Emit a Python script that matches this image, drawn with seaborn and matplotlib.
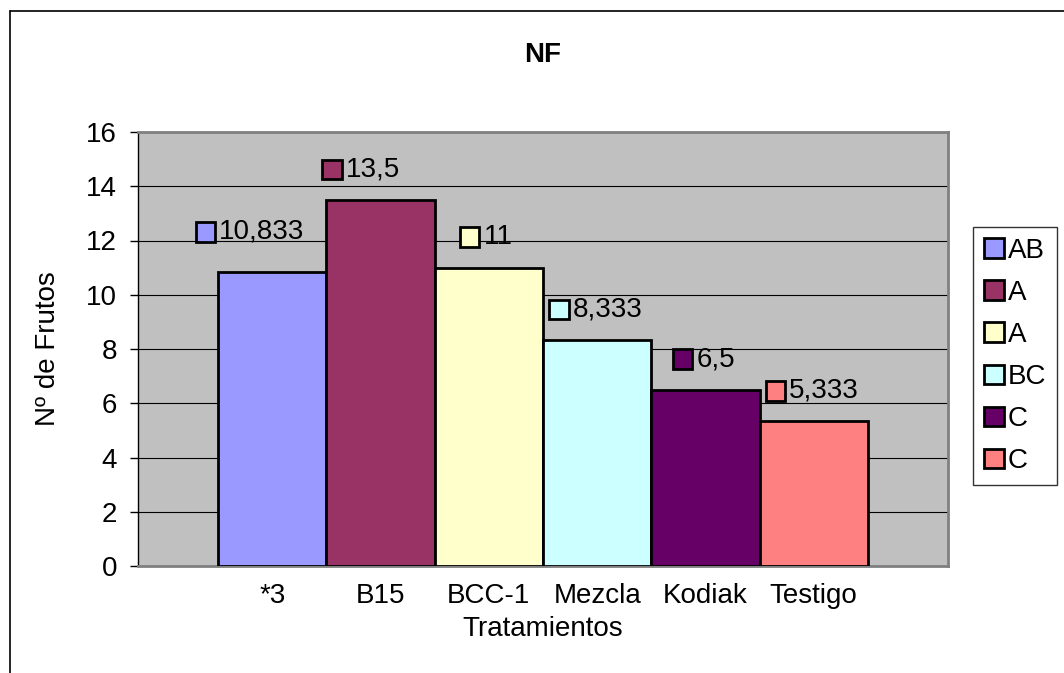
import matplotlib
matplotlib.use("Agg")
import matplotlib.pyplot as plt
from matplotlib.lines import Line2D
from matplotlib.patches import Patch, Rectangle
from matplotlib.offsetbox import AnnotationBbox, DrawingArea, HPacker, TextArea
import seaborn as sns
import pandas as pd

# data
tratamientos = ["*3", "B15", "BCC-1", "Mezcla", "Kodiak", "Testigo"]
frutos = [10.833, 13.5, 11, 8.333, 6.5, 5.333]
value_labels = ["10,833", "13,5", "11", "8,333", "6,5", "5,333"]
grupos = ["AB", "A", "A", "BC", "C", "C"]
colores = ["#9999FF", "#993366", "#FFFFCC", "#CCFFFF", "#660066", "#FF8080"]
yticks = [0, 2, 4, 6, 8, 10, 12, 14, 16]

# label nudges (points), the first two were moved by hand in the original
label_dx = [-16, -14, -2, -1, -1, -1]
label_dy = [29, 22, 22, 22, 22, 22]

sns.set_style("white")
plt.rcParams["font.family"] = ["Liberation Sans", "DejaVu Sans"]
plt.rcParams.update({"text.color": "black", "axes.labelcolor": "black",
                     "xtick.color": "black", "ytick.color": "black"})
FS = 20

df = pd.DataFrame({"Tratamientos": tratamientos, "NF": frutos})

fig = plt.figure(figsize=(10.64, 6.73), dpi=100)
ax = fig.add_axes([138 / 1064, 1 - 566 / 673, 810 / 1064, 434 / 673])
ax.set_facecolor("#C0C0C0")

sns.barplot(data=df, x="Tratamientos", y="NF", hue="Tratamientos",
            palette=colores, saturation=1, width=1, edgecolor="black",
            linewidth=2, legend=False, ax=ax, zorder=3)

ax.set_xlim(-1.24, 6.24)
ax.set_ylim(0, 16)
ax.set_yticks(yticks)
ax.set_yticklabels([str(t) for t in yticks], fontsize=FS)
ax.tick_params(axis="y", length=6, width=1, color="black", pad=9, left=True)
ax.tick_params(axis="x", length=0, labelsize=FS, pad=12)
ax.yaxis.grid(True, color="black", lw=0.8)
ax.set_axisbelow(True)

for side in ["top", "right", "bottom"]:
    ax.spines[side].set_color("#808080")
    ax.spines[side].set_linewidth(2)
ax.spines["left"].set_color("black")
ax.spines["left"].set_linewidth(1)

ax.set_xlabel("Tratamientos", fontsize=FS)
ax.set_ylabel("Nº de Frutos", fontsize=FS)
ax.xaxis.set_label_coords(0.5, -0.116)
ax.yaxis.set_label_coords(-0.095, 0.5)

# data labels with legend key
for i, (v, txt, c) in enumerate(zip(frutos, value_labels, colores)):
    da = DrawingArea(14, 14, 0, 0)
    da.add_artist(Rectangle((0, 0), 14, 14, facecolor=c, edgecolor="black", lw=2))
    ta = TextArea(txt, textprops=dict(fontsize=FS, color="black"))
    box = HPacker(children=[da, ta], align="center", pad=0, sep=3)
    ab = AnnotationBbox(box, (i, v), xybox=(label_dx[i], label_dy[i]),
                        xycoords="data", boxcoords="offset points",
                        box_alignment=(0.5, 0.5), frameon=False, zorder=4)
    ax.add_artist(ab)

handles = [Patch(facecolor=c, edgecolor="black", lw=2) for c in colores]
leg = fig.legend(handles, grupos, loc="center left",
                 bbox_to_anchor=(973 / 1064, 1 - 356 / 673),
                 fontsize=FS, frameon=True, fancybox=False,
                 handlelength=0.7, handleheight=0.7, handletextpad=0.15,
                 labelspacing=0.58, borderpad=0.4, borderaxespad=0)
leg.get_frame().set_edgecolor("black")
leg.get_frame().set_linewidth(1)

fig.text(543 / 1064, 1 - 55 / 673, "NF", fontsize=FS, fontweight="bold",
         ha="center", va="center")

# outer chart frame (cut off at right and bottom)
fig.add_artist(Line2D([9.5 / 1064, 9.5 / 1064], [0, 1 - 11 / 673],
                      transform=fig.transFigure, color="black", lw=1.2))
fig.add_artist(Line2D([9.5 / 1064, 1], [1 - 11 / 673, 1 - 11 / 673],
                      transform=fig.transFigure, color="black", lw=1.2))

fig.savefig("out.png", dpi=100)
